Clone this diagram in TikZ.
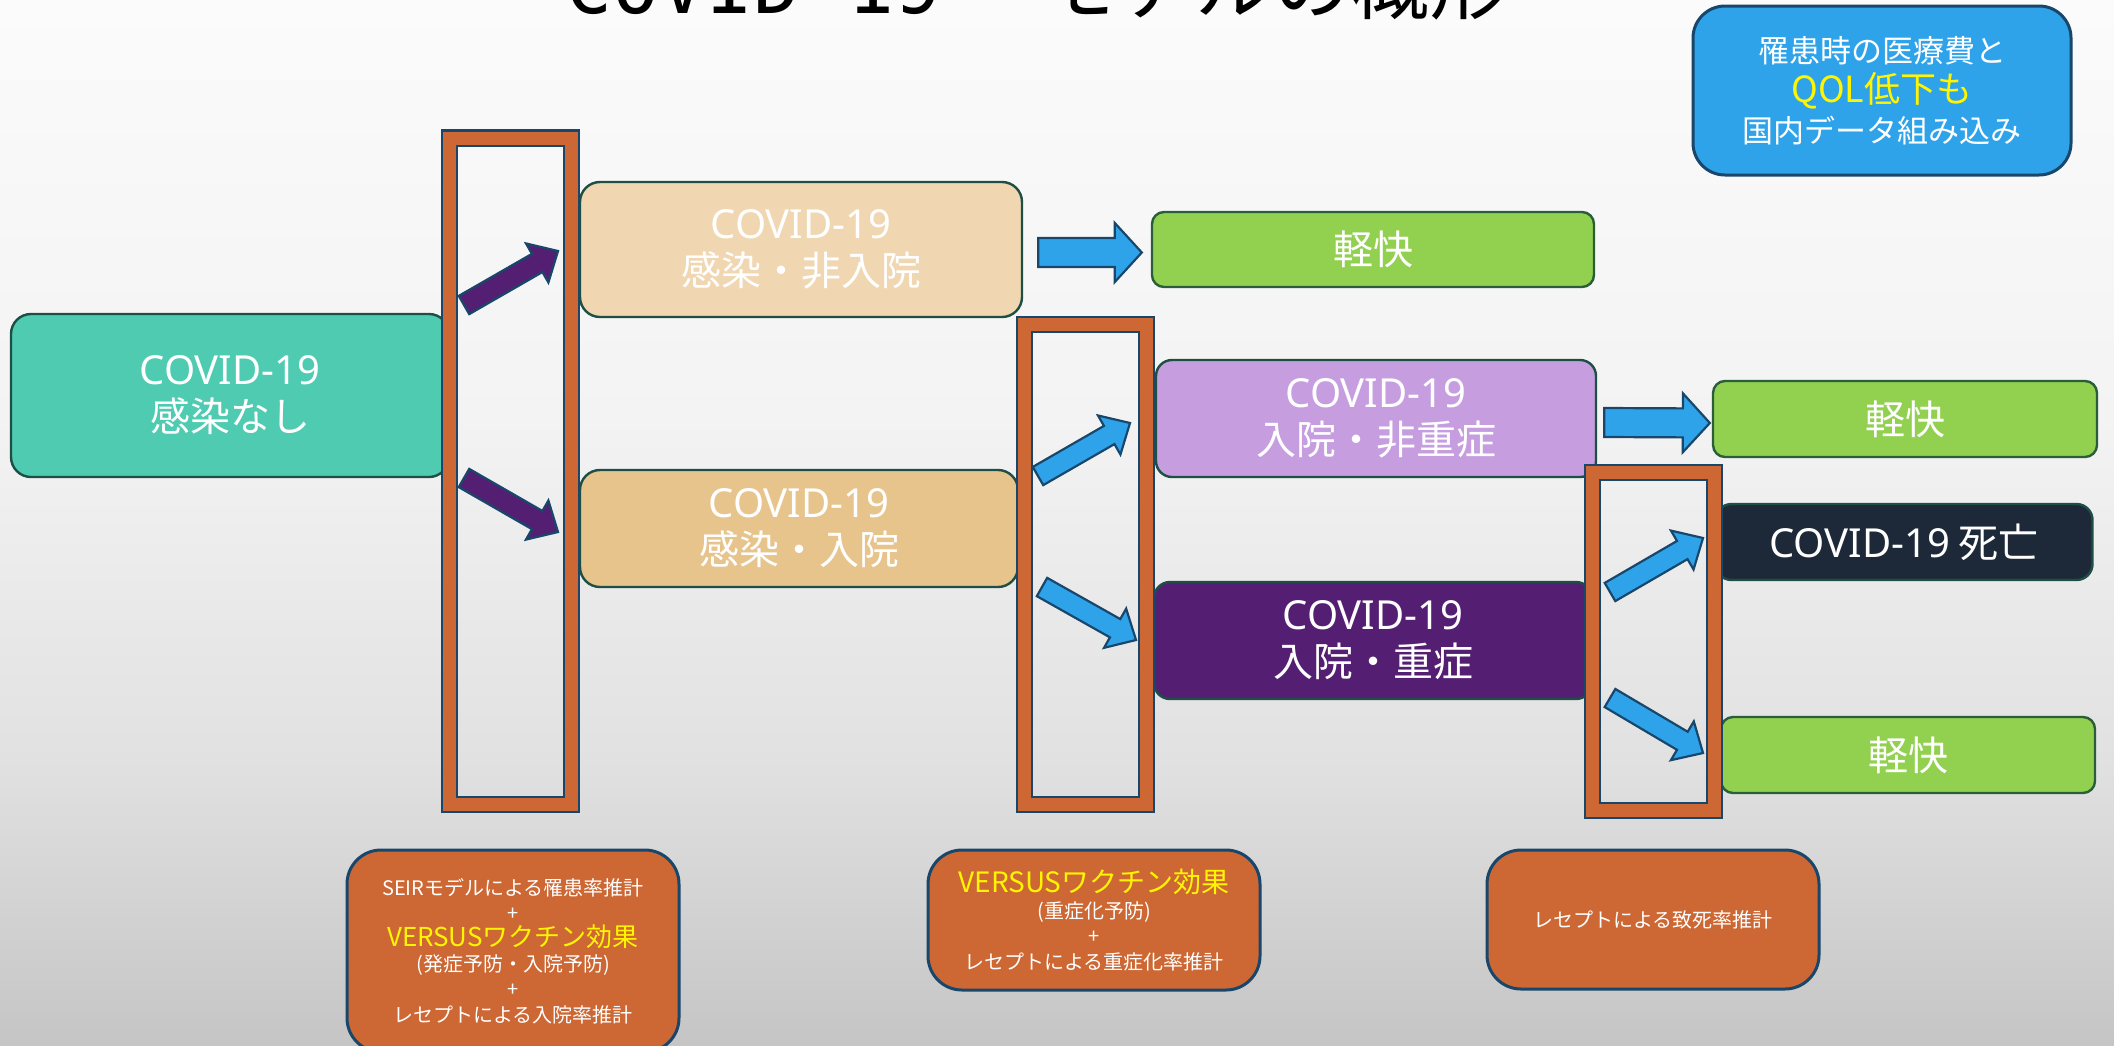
\documentclass[tikz,border=0pt]{standalone}
\usepackage{fontspec}
\setmainfont{Noto Sans CJK JP}
\newfontfamily\monofont{DejaVu Sans Mono}
\newfontfamily\latinfont{Noto Sans}
\newcommand{\covid}{{\latinfont COVID-19}}
\usetikzlibrary{calc}

% palette
\definecolor{bgA}{HTML}{FBFBFB}
\definecolor{bgB}{HTML}{F3F3F3}
\definecolor{bgC}{HTML}{E1E1E1}
\definecolor{bgD}{HTML}{C5C5C5}
\definecolor{stageline}{HTML}{1E4F44}
\definecolor{okline}{HTML}{2A5E3B}
\definecolor{frameline}{HTML}{18476B}
\definecolor{frameorange}{HTML}{CD6733}
\definecolor{okgreen}{HTML}{92D050}
\definecolor{mint}{HTML}{4ECBB0}
\definecolor{tanlight}{HTML}{F0D7B1}
\definecolor{tan}{HTML}{E8C48D}
\definecolor{lilac}{HTML}{C69EE0}
\definecolor{plum}{HTML}{541F72}
\definecolor{navy}{HTML}{1D2939}
\definecolor{skyblue}{HTML}{2FA3EA}
\definecolor{hiyellow}{HTML}{FFF500}

% block arrow: tail, tip, shaft half-width, head half-width, head length, fill
\newcommand{\blockarrow}[6]{%
  \coordinate (hb) at ($(#2)!#5!(#1)$);
  \filldraw[arrowbody, fill=#6]
    ($(#1)!#3!90:(#2)$) -- ($(hb)!#3!90:(#2)$) -- ($(hb)!#4!90:(#2)$) -- (#2)
    -- ($(hb)!#4!-90:(#2)$) -- ($(hb)!#3!-90:(#2)$) -- ($(#1)!#3!-90:(#2)$) -- cycle;
}

\tikzset{
  stage/.style={draw=stageline, line width=1.2pt, rounded corners=10pt, inner sep=0pt,
    align=center, text=white, font=\fontsize{20}{23.5}\selectfont},
  outcome/.style={stage, draw=okline, fill=okgreen, rounded corners=6pt},
  frame/.style={draw=frameline, line width=1.1pt, double=frameorange, double distance=6.5pt,
    inner sep=0pt, minimum width=61pt},
  note/.style={draw=frameline, line width=1.5pt, fill=frameorange, rounded corners=17pt,
    inner sep=0pt, align=center, text=white, font=\fontsize{10}{12.7}\selectfont,
    minimum width=166pt},
  arrowbody/.style={draw=frameline, line width=1.1pt, line join=miter},
}

\begin{document}
\begin{tikzpicture}[x=0.5pt, y=-0.5pt]
\useasboundingbox (0,0) rectangle (2114,1045);
\clip (0,0) rectangle (2114,1045);

% slide background
\shade[top color=bgA, bottom color=bgB] (0,0) rectangle (2114,421);
\shade[top color=bgB, bottom color=bgC] (0,420) rectangle (2114,761);
\shade[top color=bgC, bottom color=bgD] (0,760) rectangle (2114,1045);

% title, running off the top edge
\node[anchor=base west, inner sep=0pt, font=\fontsize{39}{39}\selectfont] (title) at (565,13)
  {{\monofont COVID-19}　\hspace{10pt}モデルの概形};

% health states
\node[stage, fill=mint, minimum width=219pt, minimum height=81.5pt] (none) at (230,395.5)
  {\covid\\感染なし};
\node[stage, fill=tanlight, minimum width=221pt, minimum height=67.5pt] (outpt) at (801,249.5)
  {\covid\\感染・非入院};
\node[stage, fill=tan, minimum width=219pt, minimum height=58.5pt] (inpt) at (799,528.5)
  {\covid\\感染・入院};
\node[outcome, minimum width=221pt, minimum height=37.5pt] (rec1) at (1373,249.5) {軽快};
\node[stage, fill=lilac, rounded corners=8pt, minimum width=220pt, minimum height=58.5pt] (mild) at (1376,418.5)
  {\covid\\入院・非重症};
\node[stage, fill=plum, rounded corners=8pt, minimum width=219pt, minimum height=58.5pt] (severe) at (1373,640.5)
  {\covid\\入院・重症};
\node[outcome, minimum width=192pt, minimum height=38pt] (rec2) at (1905,419) {軽快};
\node[stage, fill=navy, rounded corners=8pt, minimum width=188.5pt, minimum height=38pt,
  font=\fontsize{20}{23}\selectfont] (death) at (1904,542) {\covid\ 死亡};
\node[outcome, minimum width=187pt, minimum height=38pt] (rec3) at (1908,755) {軽快};

% transition frames
\node[frame, minimum height=333.25pt] (bar1) at (510.5,471.25) {};
\node[frame, minimum height=240pt] (bar2) at (1085.5,564.5) {};
\node[frame, minimum height=169pt] (bar3) at (1653.5,641.5) {};

% branching arrows inside the frames
\coordinate (p1t) at (464,305);  \coordinate (p1h) at (558,251);
\coordinate (p2t) at (464,478);  \coordinate (p2h) at (558,532);
\coordinate (q1t) at (1038,476); \coordinate (q1h) at (1130,423);
\coordinate (q2t) at (1042,587); \coordinate (q2h) at (1136,640);
\coordinate (r1t) at (1610,592); \coordinate (r1h) at (1703,538);
\coordinate (r2t) at (1610,698); \coordinate (r2h) at (1703,753);
\blockarrow{p1t}{p1h}{5.25pt}{11.25pt}{12pt}{plum}
\blockarrow{p2t}{p2h}{5.25pt}{11.25pt}{12pt}{plum}
\blockarrow{q1t}{q1h}{5.25pt}{11.25pt}{12pt}{skyblue}
\blockarrow{q2t}{q2h}{5.25pt}{11.25pt}{12pt}{skyblue}
\blockarrow{r1t}{r1h}{5.25pt}{11.25pt}{12pt}{skyblue}
\blockarrow{r2t}{r2h}{5.25pt}{11.25pt}{12pt}{skyblue}

% recovery arrows
\coordinate (h1t) at ($(outpt.east)+(15,3)$);
\coordinate (h1h) at ($(rec1.west)+(-9,3)$);
\coordinate (h2t) at ($(mild.east)+(7,4)$);
\coordinate (h2h) at ($(rec2.west)+(-2,4)$);
\blockarrow{h1t}{h1h}{7.25pt}{14.75pt}{13.5pt}{skyblue}
\blockarrow{h2t}{h2h}{7.25pt}{14.75pt}{13.5pt}{skyblue}

% data sources for each transition
\node[note, minimum height=101pt] (srcA) at (513,951)
  {SEIRモデルによる罹患率推計\\+\\{\color{hiyellow}\fontsize{13}{12.7}\selectfont VERSUSワクチン効果}\\(発症予防・入院予防)\\+\\レセプトによる入院率推計};
\node[note, minimum height=70pt] (srcB) at (1094,920)
  {{\color{hiyellow}\fontsize{14}{13}\selectfont VERSUSワクチン効果}\\(重症化予防)\\+\\レセプトによる重症化率推計};
\node[note, minimum height=69.5pt] (srcC) at (1653,919.5) {レセプトによる致死率推計};

% cost / QOL note
\node[draw=frameline, line width=1.5pt, fill=skyblue, rounded corners=16pt, inner sep=0pt,
  minimum width=189pt, minimum height=84.5pt, align=center, text=white,
  font=\fontsize{15.5}{20}\selectfont] (cost) at (1882,90.5)
  {罹患時の医療費と\\{\color{hiyellow}\fontsize{18}{20}\selectfont QOL低下も}\\国内データ組み込み};
\end{tikzpicture}
\end{document}
